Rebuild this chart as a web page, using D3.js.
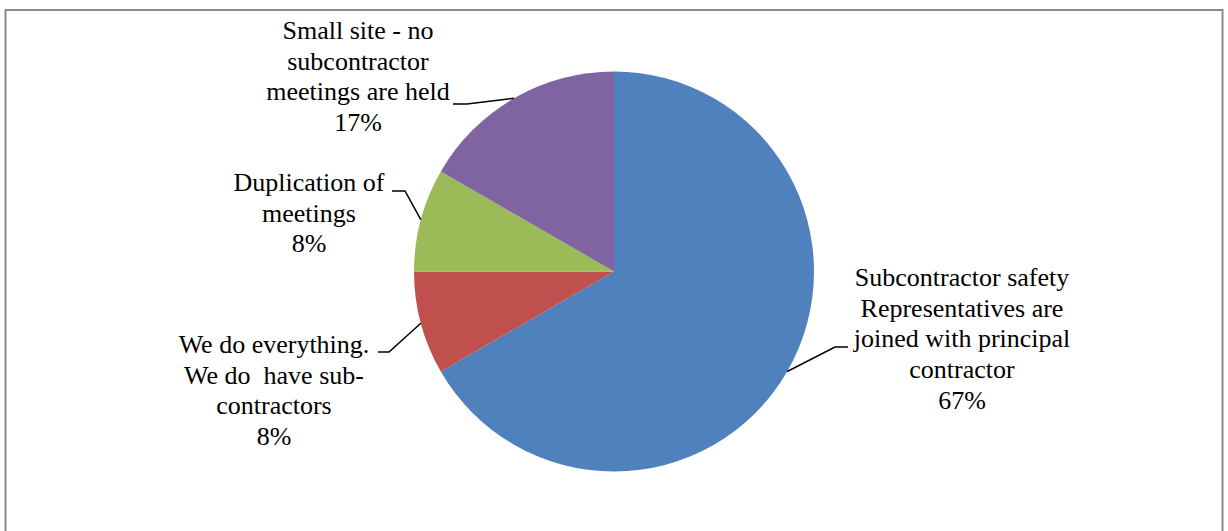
<!DOCTYPE html>
<html>
<head>
<meta charset="utf-8">
<script src="https://cdn.jsdelivr.net/npm/d3@7"></script>
<style>
  html, body { margin: 0; padding: 0; background: #fff; }
  svg { display: block; }
</style>
</head>
<body>
<svg id="chart" width="1228" height="531"></svg>
<script>
// ---- data ----
const categories = [
  "Subcontractor safety\nRepresentatives are\njoined with principal\ncontractor",
  "We do everything.\nWe do  have sub-\ncontractors",
  "Duplication of\nmeetings",
  "Small site - no\nsubcontractor\nmeetings are held"
];
const counts = [8, 1, 1, 2];
const colors = ["#4F81BD", "#C0504D", "#9BBB59", "#8064A2"];

// ---- layout (label placement, not data) ----
const labelLayout = [
  { cx: 962, y0: 286, elbowX: 835, elbowY: 347, endX: 848 },
  { cx: 274, y0: 353, elbowX: 389, elbowY: 352, endX: 378 },
  { cx: 309, y0: 191, elbowX: 405, elbowY: 191, endX: 392 },
  { cx: 358, y0: 39,  elbowX: 467, elbowY: 104, endX: 453 }
];
const lineH = 30.7;
const FONT = "'Liberation Serif', 'Times New Roman', Tinos, 'DejaVu Serif', serif";

const svg = d3.select("#chart");

// chart border
svg.append("rect")
  .attr("x", 5.5).attr("y", 10).attr("width", 1217).attr("height", 540)
  .attr("fill", "#fff").attr("stroke", "#8a8a8a").attr("stroke-width", 2);

const cx = 614, cy = 271.5, R = 200;
const data = categories.map((c, i) => ({ name: c, value: counts[i], color: colors[i], layout: labelLayout[i] }));
const total = d3.sum(counts);

const pie = d3.pie().sort(null).value(d => d.value);
const arcs = pie(data);
const arc = d3.arc().innerRadius(0).outerRadius(R);

const g = svg.append("g").attr("transform", `translate(${cx},${cy})`);
g.selectAll("path.slice").data(arcs).enter().append("path")
  .attr("class", "slice")
  .attr("d", arc)
  .attr("fill", d => d.data.color);

const fmt = v => Math.round(v / total * 100) + "%";
arcs.forEach(a => {
  const mid = (a.startAngle + a.endAngle) / 2;
  const sx = cx + R * Math.sin(mid);
  const sy = cy - R * Math.cos(mid);
  const L = a.data.layout;
  svg.append("polyline")
    .attr("points", `${sx},${sy} ${L.elbowX},${L.elbowY} ${L.endX},${L.elbowY}`)
    .attr("fill", "none").attr("stroke", "#000").attr("stroke-width", 1.5);

  const lines = a.data.name.split("\n").concat([fmt(a.data.value)]);
  const t = svg.append("text")
    .attr("text-anchor", "middle")
    .attr("font-family", FONT)
    .attr("font-size", 26)
    .attr("fill", "#000")
    .style("white-space", "pre")
    .style("font-family", FONT);
  lines.forEach((ln, i) => {
    t.append("tspan").attr("x", L.cx).attr("y", L.y0 + i * lineH).text(ln);
  });
});
</script>
</body>
</html>
